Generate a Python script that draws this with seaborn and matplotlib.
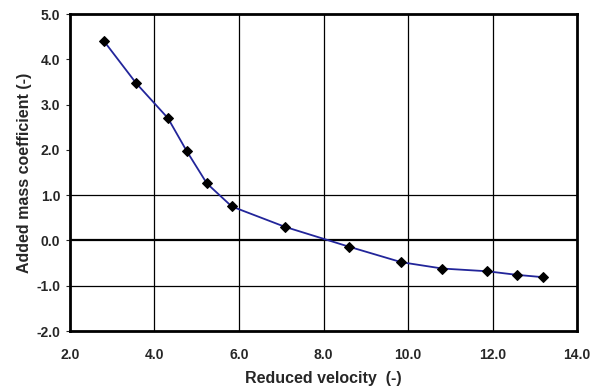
import numpy as np
import pandas as pd
import matplotlib
matplotlib.use("Agg")
import matplotlib.pyplot as plt
import seaborn as sns

reduced_velocity = [2.80, 3.57, 4.32, 4.76, 5.24, 5.83, 7.09, 8.61, 9.84, 10.81, 11.87, 12.58, 13.18]
added_mass = [4.41, 3.47, 2.70, 1.98, 1.26, 0.75, 0.30, -0.14, -0.48, -0.62, -0.68, -0.76, -0.81]
x_ticks = [2.0, 4.0, 6.0, 8.0, 10.0, 12.0, 14.0]
y_ticks = [-2.0, -1.0, 0.0, 1.0, 2.0, 3.0, 4.0, 5.0]

df = pd.DataFrame({"Vr": reduced_velocity, "Ca": added_mass})

sns.set_style("white")
plt.rcParams["font.family"] = ["Liberation Sans", "DejaVu Sans"]

fig = plt.figure(figsize=(5.92, 3.89), dpi=100)
ax = fig.add_axes([0.118, 0.149, 0.857, 0.815])

# grid: vertical lines at every major tick, horizontal only near zero
for xv in x_ticks[1:-1]:
    ax.axvline(xv, color="black", lw=0.9, zorder=1)
for yv in [1.0, -1.0]:
    ax.axhline(yv, color="black", lw=0.9, zorder=1)
ax.axhline(0.0, color="black", lw=1.6, zorder=1)

sns.lineplot(data=df, x="Vr", y="Ca", ax=ax, color="#22259a", lw=1.3,
             marker="D", markersize=5.5, markerfacecolor="black",
             markeredgecolor="black", zorder=3)

ax.set_xlim(2, 14)
ax.set_ylim(-2, 5)
ax.set_xticks(x_ticks)
ax.set_yticks(y_ticks)
ax.set_xticklabels([f"{v:.1f}" for v in x_ticks], fontsize=10, fontweight="bold")
ax.set_yticklabels([f"{v:.1f}" for v in y_ticks], fontsize=10, fontweight="bold")
ax.tick_params(axis="y", direction="out", length=3, width=0.8, left=True, pad=4)
ax.tick_params(axis="x", length=0, pad=12)

ax.set_xlabel("Reduced velocity  (-)", fontsize=11.5, fontweight="bold", labelpad=7)
ax.set_ylabel("Added mass coefficient (-)", fontsize=11.5, fontweight="bold", labelpad=3)

for s in ax.spines.values():
    s.set_visible(True)
    s.set_color("black")
    s.set_linewidth(2.0)

fig.savefig("out.png", dpi=100, facecolor="white")
